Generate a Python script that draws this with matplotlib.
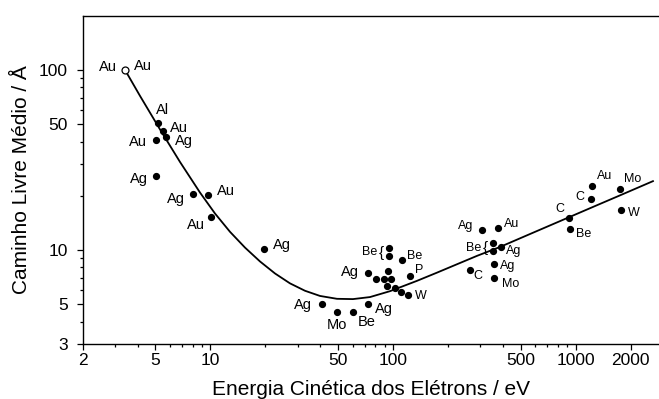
import matplotlib
matplotlib.use("Agg")
import matplotlib.pyplot as plt
from matplotlib.ticker import FixedLocator, NullFormatter, FixedFormatter

plt.rcParams['font.family'] = ['Liberation Sans', 'DejaVu Sans']

# curva universal
curve_energy = [3.41, 4.12, 5.30, 6.82, 8.77, 10.60, 12.80, 15.47, 18.68, 22.57,
                27.26, 32.94, 39.8, 49.3, 60.3, 74.7, 96.2, 135, 174, 224, 288,
                385, 583, 918, 1356, 1746, 2645]
curve_imfp = [100, 71.7, 46.7, 30.8, 20.84, 15.93, 12.61, 10.30, 8.63, 7.40,
              6.52, 5.93, 5.55, 5.35, 5.33, 5.47, 5.90, 6.73, 7.48, 8.33, 9.27,
              10.39, 12.46, 15.19, 18.01, 20.10, 24.11]

# ponto aberto (Au)
open_energy = [3.41]
open_imfp = [100]

# pontos experimentais
dot_energy = [5.15, 5.50, 5.72, 5.02, 5.04, 8.0, 9.70, 10.03, 19.7,
              95.3, 95.3, 111.9, 73.2, 93.5, 80.6, 88.8, 97.4, 123.8, 92.3, 102.4,
              110.1, 120.2, 40.7, 49.1, 60.1, 72.6,
              308, 374, 353, 353, 390, 357, 264, 358, 918, 929, 1206, 1226, 1752, 1770]
dot_imfp = [50.6, 45.8, 42.5, 40.9, 25.8, 20.5, 20.3, 15.3, 10.1,
            10.2, 9.26, 8.80, 7.48, 7.67, 6.93, 6.87, 6.93, 7.17, 6.31, 6.15,
            5.84, 5.62, 4.99, 4.51, 4.54, 4.99,
            12.9, 13.3, 10.9, 9.91, 10.35, 8.36, 7.74, 7.02, 15.0, 13.1, 19.1, 22.8, 21.9, 16.7]

# rótulos: (texto, índice do ponto, dx px, dy px, tamanho)
big, small = 10.5, 9
open_labels = [("Au", -17, 3), ("Au", 18, 4)]
dot_labels = [
    ("Al", 0, 5, 13, big), ("Au", 1, 16, 3, big), ("Ag", 2, 18, -4, big),
    ("Au", 3, -18, -2, big), ("Ag", 4, -17, -3, big), ("Ag", 5, -17, -5, big),
    ("Au", 6, 18, 4, big), ("Au", 7, -15, -8, big), ("Ag", 8, 18, 4, big),
    ("Be", 9, -20, -4, small), ("Be", 11, 13, 4, small), ("Ag", 12, -18, 1, big),
    ("P", 17, 9, 6, small), ("W", 21, 13, -1, small), ("Ag", 22, -19, -1, big),
    ("Mo", 23, 0, -13, big), ("Be", 24, 14, -10, big), ("Ag", 25, 16, -5, big),
    ("Ag", 26, -17, 4, small), ("Au", 27, 14, 4, small), ("Be", 28, -20, -4.5, small),
    ("Ag", 30, 13, -4, small), ("Ag", 31, 14, -2, small), ("C", 32, 8, -6, small),
    ("Mo", 33, 16, -6, small), ("C", 34, -9, 9, small), ("Be", 35, 14, -5, small),
    ("C", 36, -11, 2, small), ("Au", 37, 13, 10, small), ("Mo", 38, 12, 10, small),
    ("W", 39, 13, -3, small),
]
brace_points = [9, 28]

x_major = [2, 5, 10, 50, 100, 500, 1000, 2000]
x_minor = [3, 4, 6, 7, 8, 9, 20, 30, 40, 60, 70, 80, 90,
           200, 300, 400, 600, 700, 800, 900]
y_major = [3, 5, 10, 50, 100]
y_minor = [4, 6, 7, 8, 9, 20, 30, 40, 60, 70, 80, 90]

fig = plt.figure(figsize=(6.59, 3.99), dpi=100)
ax = fig.add_axes([0.1255, 0.1378, 0.8745, 0.8226])

ax.plot(curve_energy, curve_imfp, color='black', lw=1.3, zorder=2)
ax.plot(dot_energy, dot_imfp, 'o', color='black', ms=4.2, zorder=3)
ax.plot(open_energy, open_imfp, 'o', mfc='white', mec='black', mew=0.9, ms=5, zorder=3)

for text, dx, dy in open_labels:
    ax.annotate(text, (open_energy[0], open_imfp[0]), xytext=(dx, dy),
                textcoords='offset pixels', ha='center', va='center', fontsize=big)
for text, i, dx, dy, size in dot_labels:
    ax.annotate(text, (dot_energy[i], dot_imfp[i]), xytext=(dx, dy),
                textcoords='offset pixels', ha='center', va='center', fontsize=size)
for i in brace_points:
    ax.annotate("{", (dot_energy[i], dot_imfp[i]), xytext=(-8, -5),
                textcoords='offset pixels', ha='center', va='center', fontsize=11)

ax.set_xscale('log')
ax.set_yscale('log')
ax.set_xlim(2, 2854)
ax.set_ylim(3, 200)

ax.xaxis.set_major_locator(FixedLocator(x_major))
ax.xaxis.set_major_formatter(FixedFormatter([str(v) for v in x_major]))
ax.xaxis.set_minor_locator(FixedLocator(x_minor))
ax.xaxis.set_minor_formatter(NullFormatter())
ax.yaxis.set_major_locator(FixedLocator(y_major))
ax.yaxis.set_major_formatter(FixedFormatter([str(v) for v in y_major]))
ax.yaxis.set_minor_locator(FixedLocator(y_minor))
ax.yaxis.set_minor_formatter(NullFormatter())

ax.tick_params(which='major', direction='out', length=4.5, width=0.9, labelsize=12.5)
ax.tick_params(which='minor', direction='out', length=2.5, width=0.9)
ax.tick_params(axis='x', which='major', pad=2)
ax.tick_params(axis='y', which='major', pad=6)

for side in ['left', 'bottom', 'top']:
    ax.spines[side].set_linewidth(1.0)
ax.spines['right'].set_visible(False)

ax.set_xlabel('Energia Cinética dos Elétrons / eV', fontsize=15)
ax.set_ylabel('Caminho Livre Médio / Å', fontsize=15)
ax.xaxis.set_label_coords(0.5, -0.11)
ax.yaxis.set_label_coords(-0.09, 0.5)

fig.savefig('out.png', dpi=100)
